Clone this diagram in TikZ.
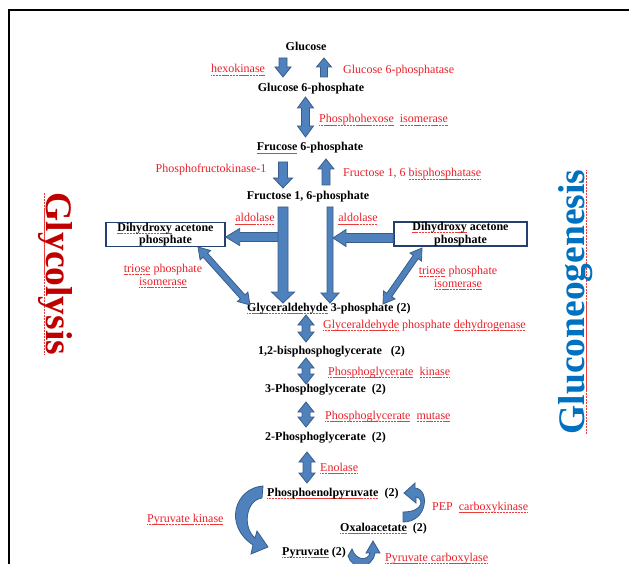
\documentclass[tikz,border=0pt]{standalone}
\usepackage{fontspec}
\setmainfont{Liberation Serif}
\usetikzlibrary{calc}
\definecolor{afill}{RGB}{79,129,189}
\definecolor{aline}{RGB}{56,93,138}
\definecolor{rtext}{RGB}{232,32,40}
\definecolor{sqred}{RGB}{235,60,60}
\definecolor{glyred}{RGB}{192,0,0}
\definecolor{gngblue}{RGB}{0,112,192}
\definecolor{boxline}{RGB}{37,64,110}
\newsavebox\sqbox
\newcommand\sq[1]{\sbox\sqbox{#1}\rlap{\textcolor{sqred}{\xleaders\hbox{\rule[-2.4pt]{1.2pt}{0.7pt}\kern0.3pt}\hskip\wd\sqbox}}\usebox\sqbox}
% single block arrow: from, to, shaft half width, head half width, head length
\newcommand\sarrow[5]{%
  \coordinate (tmpP) at ($(#2)!#5!(#1)$);
  \draw[ba] ($(#1)!#3!90:(#2)$) -- ($(tmpP)!#3!90:(#2)$) -- ($(tmpP)!#4!90:(#2)$) -- (#2)
    -- ($(tmpP)!#4!-90:(#2)$) -- ($(tmpP)!#3!-90:(#2)$) -- ($(#1)!#3!-90:(#2)$) -- cycle;}
% double block arrow
\newcommand\darrow[5]{%
  \coordinate (tmpP) at ($(#1)!#5!(#2)$);
  \coordinate (tmpQ) at ($(#2)!#5!(#1)$);
  \draw[ba] (#1) -- ($(tmpP)!#4!90:(#2)$) -- ($(tmpP)!#3!90:(#2)$) -- ($(tmpQ)!#3!90:(#2)$)
    -- ($(tmpQ)!#4!90:(#2)$) -- (#2) -- ($(tmpQ)!#4!-90:(#2)$) -- ($(tmpQ)!#3!-90:(#2)$)
    -- ($(tmpP)!#3!-90:(#2)$) -- ($(tmpP)!#4!-90:(#2)$) -- cycle;}
\tikzset{
  ba/.style={fill=afill, draw=aline, line width=0.8pt, line join=miter},
  lbl/.style={font=\bfseries\fontsize{12}{14}\selectfont, inner sep=1pt, text height=8.5pt, text depth=2.5pt},
  enz/.style={font=\fontsize{12}{13}\selectfont, text=rtext, inner sep=1pt, text height=8.5pt, text depth=2.5pt},
  enz2/.style={font=\fontsize{12}{13}\selectfont, text=rtext, inner sep=1pt, align=center},
  dbox/.style={draw=boxline, line width=1.3pt, inner sep=0pt, align=center,
    font=\bfseries\fontsize{12}{12.5}\selectfont},
  title/.style={font=\bfseries\fontsize{37.5}{40}\selectfont, inner sep=0pt, anchor=base}
}
\begin{document}
\begin{tikzpicture}[x=1pt,y=-1pt]
\useasboundingbox (0,0) rectangle (629,564);
\draw[line width=2pt] (9,570) -- (9,10) -- (635,10);

% titles
\node[title, rotate=-90, text=glyred] (gly) at (46,274) {\sq{Glycolysis}};
\node[title, rotate=90, text=gngblue] (gng) at (584,302) {\sq{Gluconeogenesis}};

% metabolites and enzymes
\node[lbl] (glc) at (306,48) {Glucose};
\node[enz] (hk) at (238,70) {\sq{hexokinase}};
\node[enz, anchor=west] (g6pase) at (342,71) {Glucose 6-phosphatase};
\node[lbl] (g6p) at (311,89) {Glucose 6-phosphate};
\node[enz, anchor=west] (pgi) at (318,120) {\sq{Phosphohexose}\ \ \sq{isomerase}};
\node[lbl] (f6p) at (310,148) {\sq{Frucose} 6-phosphate};
\node[enz] (pfk) at (211,170) {Phosphofructokinase-1};
\node[enz, anchor=west] (fbpase) at (342,174) {Fructose 1, 6 \sq{bisphosphatase}};
\node[lbl] (fbp) at (308,197) {Fructose 1, 6-phosphate};
\node[enz] (ald1) at (255,219) {\sq{aldolase}};
\node[enz] (ald2) at (358,219) {\sq{aldolase}};
\node[dbox, minimum width=119pt, minimum height=23pt] (dhap1) at (165.5,234.5) {\sq{Dihydroxy} acetone\\phosphate};
\node[dbox, minimum width=133pt, minimum height=24pt] (dhap2) at (460.5,234) {\sq{Dihydroxy} acetone\\phosphate};
\node[enz2] (tpi1) at (163,276) {\sq{triose} phosphate\\\sq{isomerase}};
\node[enz2] (tpi2) at (458,278) {\sq{triose} phosphate\\\sq{isomerase}};
\node[lbl, anchor=west] (g3p) at (246,308) {\sq{Glyceraldehyde} 3-phosphate (2)};
\node[enz, anchor=west] (gapdh) at (322,325) {\sq{Glyceraldehyde} phosphate \sq{dehydrogenase}};
\node[lbl, anchor=west] (bpg) at (257,351) {1,2-bisphosphoglycerate\ \ \ (2)};
\node[enz, anchor=west] (pgk) at (327,372) {\sq{Phosphoglycerate}\ \ \sq{kinase}};
\node[lbl, anchor=west] (pg3) at (264,389) {3-Phosphoglycerate\ \ (2)};
\node[enz, anchor=west] (pgm) at (324,416) {\sq{Phosphoglycerate}\ \ \sq{mutase}};
\node[lbl, anchor=west] (pg2) at (264,437) {2-Phosphoglycerate\ \ (2)};
\node[enz, anchor=west] (eno) at (319,468) {\sq{Enolase}};
\node[lbl, anchor=west] (pep) at (266,493) {\sq{Phosphoenolpyruvate}\ \ (2)};
\node[enz, anchor=west] (pk) at (146,519) {\sq{Pyruvate kinase}};
\node[enz, anchor=west] (pepck) at (431,507) {PEP\ \ \sq{carboxykinase}};
\node[lbl, anchor=west] (oaa) at (339,528) {\sq{Oxaloacetate}\ \ (2)};
\node[lbl, anchor=west] (pyr) at (281,552) {\sq{Pyruvate} (2)};
\node[enz, anchor=west] (pc) at (384,558) {\sq{Pyruvate carboxylase}};

% arrow end points
\coordinate (a1s) at (283,58);  \coordinate (a1e) at (283,77);
\coordinate (a2s) at (324,77);  \coordinate (a2e) at (324,58);
\coordinate (a3s) at (305.5,97); \coordinate (a3e) at (305.5,137);
\coordinate (a4s) at (283,162); \coordinate (a4e) at (283,188);
\coordinate (a5s) at (326,185); \coordinate (a5e) at (326,159);
\coordinate (lhs) at (283,237); \coordinate (lhe) at (dhap1.east |- 0,237);
\coordinate (lvs) at (283,207); \coordinate (lve) at (283,303);
\coordinate (rvs) at (330,207); \coordinate (rve) at (330,303);
\coordinate (rhs) at (dhap2.west |- 0,238); \coordinate (rhe) at (333,238);
\coordinate (dls) at (198,247); \coordinate (dle) at (250,305);
\coordinate (drs) at (422,248); \coordinate (dre) at (383,304);
\coordinate (b1s) at (306,315); \coordinate (b1e) at (306,342);
\coordinate (b2s) at (306,358); \coordinate (b2e) at (306,384);
\coordinate (b3s) at (306,402); \coordinate (b3e) at (306,427);
\coordinate (b4s) at (307,452); \coordinate (b4e) at (307,483);

\sarrow{a1s}{a1e}{4pt}{8pt}{10pt}
\sarrow{a2s}{a2e}{3.5pt}{7.5pt}{9pt}
\darrow{a3s}{a3e}{4pt}{8pt}{11pt}
\sarrow{a4s}{a4e}{4.5pt}{9.5pt}{10pt}
\sarrow{a5s}{a5e}{4pt}{8pt}{10pt}
\sarrow{lhs}{lhe}{4.5pt}{8.5pt}{14pt}
\sarrow{lvs}{lve}{5pt}{11.5pt}{11pt}
\sarrow{rvs}{rve}{3pt}{9pt}{10pt}
\sarrow{rhs}{rhe}{4.5pt}{8.5pt}{13pt}
\darrow{dls}{dle}{3pt}{7pt}{11pt}
\darrow{drs}{dre}{3pt}{7pt}{11pt}
\darrow{b1s}{b1e}{4pt}{8pt}{10pt}
\darrow{b2s}{b2e}{4pt}{8pt}{10pt}
\darrow{b3s}{b3e}{4pt}{8pt}{10pt}
\darrow{b4s}{b4e}{4pt}{8pt}{10pt}

% curved arrows
% pyruvate kinase: PEP -> pyruvate
\draw[ba] (263,486) .. controls (235,488) and (223,525) .. (253,545)
  -- (251,554) -- (268,547) -- (257,531) -- (255,538)
  .. controls (242,527) and (246,500) .. (262,498) -- cycle;
% PEP carboxykinase: oxaloacetate -> PEP
\draw[ba] (403,522) .. controls (428,522) and (430,489) .. (415,488)
  -- (415,483) -- (404,493) -- (416,503) -- (416,497)
  .. controls (424,498) and (424,512) .. (403,512) -- cycle;
% pyruvate carboxylase: pyruvate -> oxaloacetate
\draw[ba] (348,556) .. controls (352,570) and (372,570) .. (375,553)
  -- (380,553) -- (373,541) -- (366,553) -- (370,553)
  .. controls (368,561) and (356,561) .. (352,549) -- cycle;
\end{tikzpicture}
\end{document}
